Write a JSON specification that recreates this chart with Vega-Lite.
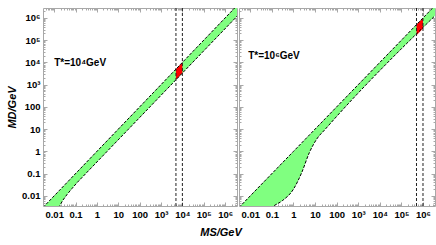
{
  "$schema": "https://vega.github.io/schema/vega-lite/v6.json",
  "background": "white",
  "padding": {"left": 6, "top": 5, "right": 2, "bottom": 2},
  "config": {
    "view": {"stroke": "#a8a8a8", "strokeWidth": 1},
    "font": "Liberation Sans",
    "concat": {"spacing": 0}
  },
  "spacing": 0,
  "datasets": {
    "bandL": [
      {"x": 0.003, "upper": 0.003, "lower": 0.0001},
      {"x": 0.018, "upper": 0.018, "lower": 0.0035},
      {"x": 0.025, "upper": 0.025, "lower": 0.0062},
      {"x": 0.04, "upper": 0.04, "lower": 0.0115},
      {"x": 0.07, "upper": 0.07, "lower": 0.022},
      {"x": 0.12, "upper": 0.12, "lower": 0.04},
      {"x": 10000000, "upper": 10000000, "lower": 3300000}
    ],
    "bandR": [
      {"x": 0.003, "upper": 0.003, "lower": 0.0001},
      {"x": 0.12, "upper": 0.12, "lower": 0.0035},
      {"x": 0.3, "upper": 0.3, "lower": 0.006},
      {"x": 1, "upper": 1, "lower": 0.02},
      {"x": 2.4, "upper": 2.4, "lower": 0.11},
      {"x": 5.5, "upper": 5.5, "lower": 0.9},
      {"x": 12, "upper": 12, "lower": 3.6},
      {"x": 30, "upper": 30, "lower": 10},
      {"x": 10000000, "upper": 10000000, "lower": 3300000}
    ],
    "redL": [
      {"x": 5000, "upper": 5000, "lower": 1667},
      {"x": 10000, "upper": 10000, "lower": 3333}
    ],
    "redR": [
      {"x": 500000, "upper": 500000, "lower": 166700},
      {"x": 1000000, "upper": 1000000, "lower": 333300}
    ],
    "rulesL": [{"x": 5000}, {"x": 10000}],
    "rulesR": [{"x": 500000}, {"x": 1000000}],
    "textL": [{"x": 0.01, "y": 9000, "label": "T*=10⁴GeV"}],
    "textR": [{"x": 0.008, "y": 20000, "label": "T*=10⁶GeV"}]
  },
  "title": {"text": "MS/GeV", "orient": "bottom", "anchor": "middle", "font": "Liberation Sans", "fontSize": 11, "fontWeight": "bold", "fontStyle": "italic", "color": "black", "offset": 6},
  "hconcat": [
    {
      "width": 194,
      "height": 198,
      "resolve": {"axis": {"x": "independent", "y": "independent"}},
      "layer": [
        {
          "data": {"name": "bandL"},
          "mark": {"type": "area", "color": "#80ff80", "opacity": 1, "clip": true},
          "encoding": {
            "x": {"field": "x", "type": "quantitative",
              "scale": {"type": "log", "domain": [0.003, 3600000], "nice": false},
              "axis": {"orient": "bottom", "title": null, "domain": false, "grid": false,
                "values": [0.004,0.005,0.006,0.007,0.008,0.009,0.01,0.02,0.03,0.04,0.05,0.06,0.07,0.08,0.09,0.1,0.2,0.3,0.4,0.5,0.6,0.7,0.8,0.9,1,2,3,4,5,6,7,8,9,10,20,30,40,50,60,70,80,90,100,200,300,400,500,600,700,800,900,1000,2000,3000,4000,5000,6000,7000,8000,9000,10000,20000,30000,40000,50000,60000,70000,80000,90000,100000,200000,300000,400000,500000,600000,700000,800000,900000,1000000,2000000,3000000],
                "labelExpr": "datum.value == 0.01 ? '0.01' : datum.value == 0.1 ? '0.1' : datum.value == 1 ? '1' : datum.value == 10 ? '10' : datum.value == 100 ? '100' : datum.value == 1000 ? '10³' : datum.value == 10000 ? '10⁴' : datum.value == 100000 ? '10⁵' : datum.value == 1000000 ? '10⁶' : ''",
                "tickSize": {"condition": {"test": "indexof([0.01,0.1,1,10,100,1000,10000,100000,1000000], datum.value) >= 0", "value": -4}, "value": -2},
                "tickColor": "#a8a8a8", "labelPadding": 7, "labelFont": "Liberation Sans", "labelFontSize": 9.5, "labelFontWeight": "bold", "labelColor": "black", "labelOverlap": false, "labelFlush": false, "labelBound": false}},
            "y": {"field": "upper", "type": "quantitative",
              "scale": {"type": "log", "domain": [0.0035, 2800000], "nice": false},
              "axis": {"orient": "left", "title": "MD/GeV", "domain": false, "grid": false,
                "values": [0.004,0.005,0.006,0.007,0.008,0.009,0.01,0.02,0.03,0.04,0.05,0.06,0.07,0.08,0.09,0.1,0.2,0.3,0.4,0.5,0.6,0.7,0.8,0.9,1,2,3,4,5,6,7,8,9,10,20,30,40,50,60,70,80,90,100,200,300,400,500,600,700,800,900,1000,2000,3000,4000,5000,6000,7000,8000,9000,10000,20000,30000,40000,50000,60000,70000,80000,90000,100000,200000,300000,400000,500000,600000,700000,800000,900000,1000000,2000000],
                "labelExpr": "datum.value == 0.01 ? '0.01' : datum.value == 0.1 ? '0.1' : datum.value == 1 ? '1' : datum.value == 10 ? '10' : datum.value == 100 ? '100' : datum.value == 1000 ? '10³' : datum.value == 10000 ? '10⁴' : datum.value == 100000 ? '10⁵' : datum.value == 1000000 ? '10⁶' : ''",
                "tickSize": {"condition": {"test": "indexof([0.01,0.1,1,10,100,1000,10000,100000,1000000], datum.value) >= 0", "value": -4}, "value": -2},
                "tickColor": "#a8a8a8", "labelPadding": 7, "labelFont": "Liberation Sans", "labelFontSize": 9.5, "labelFontWeight": "bold", "labelColor": "black", "labelOverlap": false, "labelFlush": false, "labelBound": false,
                "titleFont": "Liberation Sans", "titleFontSize": 11, "titleFontWeight": "bold", "titleFontStyle": "italic", "titleColor": "black", "titlePadding": 4}},
            "y2": {"field": "lower"}
          }
        },
        {
          "data": {"name": "redL"},
          "mark": {"type": "area", "color": "#ff0000", "opacity": 1, "clip": true},
          "encoding": {
            "x": {"field": "x", "type": "quantitative",
              "axis": {"orient": "top", "title": null, "domain": false, "grid": false, "labels": false,
                "values": [0.004,0.005,0.006,0.007,0.008,0.009,0.01,0.02,0.03,0.04,0.05,0.06,0.07,0.08,0.09,0.1,0.2,0.3,0.4,0.5,0.6,0.7,0.8,0.9,1,2,3,4,5,6,7,8,9,10,20,30,40,50,60,70,80,90,100,200,300,400,500,600,700,800,900,1000,2000,3000,4000,5000,6000,7000,8000,9000,10000,20000,30000,40000,50000,60000,70000,80000,90000,100000,200000,300000,400000,500000,600000,700000,800000,900000,1000000,2000000,3000000],
                "tickSize": {"condition": {"test": "indexof([0.01,0.1,1,10,100,1000,10000,100000,1000000], datum.value) >= 0", "value": -4}, "value": -2},
                "tickColor": "#a8a8a8"}},
            "y": {"field": "upper", "type": "quantitative",
              "axis": {"orient": "right", "title": null, "domain": false, "grid": false, "labels": false,
                "values": [0.004,0.005,0.006,0.007,0.008,0.009,0.01,0.02,0.03,0.04,0.05,0.06,0.07,0.08,0.09,0.1,0.2,0.3,0.4,0.5,0.6,0.7,0.8,0.9,1,2,3,4,5,6,7,8,9,10,20,30,40,50,60,70,80,90,100,200,300,400,500,600,700,800,900,1000,2000,3000,4000,5000,6000,7000,8000,9000,10000,20000,30000,40000,50000,60000,70000,80000,90000,100000,200000,300000,400000,500000,600000,700000,800000,900000,1000000,2000000],
                "tickSize": {"condition": {"test": "indexof([0.01,0.1,1,10,100,1000,10000,100000,1000000], datum.value) >= 0", "value": -4}, "value": -2},
                "tickColor": "#a8a8a8"}},
            "y2": {"field": "lower"}
          }
        },
        {
          "data": {"name": "bandL"},
          "mark": {"type": "line", "color": "black", "strokeWidth": 1, "strokeDash": [3, 1.5], "clip": true},
          "encoding": {
            "x": {"field": "x", "type": "quantitative", "axis": null},
            "y": {"field": "upper", "type": "quantitative", "axis": null}
          }
        },
        {
          "data": {"name": "bandL"},
          "mark": {"type": "line", "color": "black", "strokeWidth": 1, "strokeDash": [3, 1.5], "clip": true},
          "encoding": {
            "x": {"field": "x", "type": "quantitative", "axis": null},
            "y": {"field": "lower", "type": "quantitative", "axis": null}
          }
        },
        {
          "data": {"name": "rulesL"},
          "mark": {"type": "rule", "color": "#222222", "strokeWidth": 1, "strokeDash": [3, 2]},
          "encoding": {
            "x": {"field": "x", "type": "quantitative", "axis": null}
          }
        },
        {
          "data": {"name": "textL"},
          "mark": {"type": "text", "align": "left", "baseline": "middle", "font": "Liberation Sans", "fontSize": 10, "fontWeight": "bold", "color": "black"},
          "encoding": {
            "x": {"field": "x", "type": "quantitative", "axis": null},
            "y": {"field": "y", "type": "quantitative", "axis": null},
            "text": {"field": "label"}
          }
        }
      ]
    },
    {
      "width": 196,
      "height": 198,
      "resolve": {"axis": {"x": "independent", "y": "independent"}},
      "layer": [
        {
          "data": {"name": "bandR"},
          "mark": {"type": "area", "color": "#80ff80", "opacity": 1, "clip": true, "interpolate": "monotone"},
          "encoding": {
            "x": {"field": "x", "type": "quantitative",
              "scale": {"type": "log", "domain": [0.003, 3600000], "nice": false},
              "axis": {"orient": "bottom", "title": null, "domain": false, "grid": false,
                "values": [0.004,0.005,0.006,0.007,0.008,0.009,0.01,0.02,0.03,0.04,0.05,0.06,0.07,0.08,0.09,0.1,0.2,0.3,0.4,0.5,0.6,0.7,0.8,0.9,1,2,3,4,5,6,7,8,9,10,20,30,40,50,60,70,80,90,100,200,300,400,500,600,700,800,900,1000,2000,3000,4000,5000,6000,7000,8000,9000,10000,20000,30000,40000,50000,60000,70000,80000,90000,100000,200000,300000,400000,500000,600000,700000,800000,900000,1000000,2000000,3000000],
                "labelExpr": "datum.value == 0.01 ? '0.01' : datum.value == 0.1 ? '0.1' : datum.value == 1 ? '1' : datum.value == 10 ? '10' : datum.value == 100 ? '100' : datum.value == 1000 ? '10³' : datum.value == 10000 ? '10⁴' : datum.value == 100000 ? '10⁵' : datum.value == 1000000 ? '10⁶' : ''",
                "tickSize": {"condition": {"test": "indexof([0.01,0.1,1,10,100,1000,10000,100000,1000000], datum.value) >= 0", "value": -4}, "value": -2},
                "tickColor": "#a8a8a8", "labelPadding": 7, "labelFont": "Liberation Sans", "labelFontSize": 9.5, "labelFontWeight": "bold", "labelColor": "black", "labelOverlap": false, "labelFlush": false, "labelBound": false}},
            "y": {"field": "upper", "type": "quantitative",
              "scale": {"type": "log", "domain": [0.0035, 2800000], "nice": false},
              "axis": {"orient": "left", "title": null, "domain": false, "grid": false, "labels": false,
                "values": [0.004,0.005,0.006,0.007,0.008,0.009,0.01,0.02,0.03,0.04,0.05,0.06,0.07,0.08,0.09,0.1,0.2,0.3,0.4,0.5,0.6,0.7,0.8,0.9,1,2,3,4,5,6,7,8,9,10,20,30,40,50,60,70,80,90,100,200,300,400,500,600,700,800,900,1000,2000,3000,4000,5000,6000,7000,8000,9000,10000,20000,30000,40000,50000,60000,70000,80000,90000,100000,200000,300000,400000,500000,600000,700000,800000,900000,1000000,2000000],
                "tickSize": {"condition": {"test": "indexof([0.01,0.1,1,10,100,1000,10000,100000,1000000], datum.value) >= 0", "value": -4}, "value": -2},
                "tickColor": "#a8a8a8"}},
            "y2": {"field": "lower"}
          }
        },
        {
          "data": {"name": "redR"},
          "mark": {"type": "area", "color": "#ff0000", "opacity": 1, "clip": true},
          "encoding": {
            "x": {"field": "x", "type": "quantitative",
              "axis": {"orient": "top", "title": null, "domain": false, "grid": false, "labels": false,
                "values": [0.004,0.005,0.006,0.007,0.008,0.009,0.01,0.02,0.03,0.04,0.05,0.06,0.07,0.08,0.09,0.1,0.2,0.3,0.4,0.5,0.6,0.7,0.8,0.9,1,2,3,4,5,6,7,8,9,10,20,30,40,50,60,70,80,90,100,200,300,400,500,600,700,800,900,1000,2000,3000,4000,5000,6000,7000,8000,9000,10000,20000,30000,40000,50000,60000,70000,80000,90000,100000,200000,300000,400000,500000,600000,700000,800000,900000,1000000,2000000,3000000],
                "tickSize": {"condition": {"test": "indexof([0.01,0.1,1,10,100,1000,10000,100000,1000000], datum.value) >= 0", "value": -4}, "value": -2},
                "tickColor": "#a8a8a8"}},
            "y": {"field": "upper", "type": "quantitative",
              "axis": {"orient": "right", "title": null, "domain": false, "grid": false, "labels": false,
                "values": [0.004,0.005,0.006,0.007,0.008,0.009,0.01,0.02,0.03,0.04,0.05,0.06,0.07,0.08,0.09,0.1,0.2,0.3,0.4,0.5,0.6,0.7,0.8,0.9,1,2,3,4,5,6,7,8,9,10,20,30,40,50,60,70,80,90,100,200,300,400,500,600,700,800,900,1000,2000,3000,4000,5000,6000,7000,8000,9000,10000,20000,30000,40000,50000,60000,70000,80000,90000,100000,200000,300000,400000,500000,600000,700000,800000,900000,1000000,2000000],
                "tickSize": {"condition": {"test": "indexof([0.01,0.1,1,10,100,1000,10000,100000,1000000], datum.value) >= 0", "value": -4}, "value": -2},
                "tickColor": "#a8a8a8"}},
            "y2": {"field": "lower"}
          }
        },
        {
          "data": {"name": "bandR"},
          "mark": {"type": "line", "color": "black", "strokeWidth": 1, "strokeDash": [3, 1.5], "clip": true},
          "encoding": {
            "x": {"field": "x", "type": "quantitative", "axis": null},
            "y": {"field": "upper", "type": "quantitative", "axis": null}
          }
        },
        {
          "data": {"name": "bandR"},
          "mark": {"type": "line", "color": "black", "strokeWidth": 1, "strokeDash": [3, 1.5], "clip": true, "interpolate": "monotone"},
          "encoding": {
            "x": {"field": "x", "type": "quantitative", "axis": null},
            "y": {"field": "lower", "type": "quantitative", "axis": null}
          }
        },
        {
          "data": {"name": "rulesR"},
          "mark": {"type": "rule", "color": "#222222", "strokeWidth": 1, "strokeDash": [3, 2]},
          "encoding": {
            "x": {"field": "x", "type": "quantitative", "axis": null}
          }
        },
        {
          "data": {"name": "textR"},
          "mark": {"type": "text", "align": "left", "baseline": "middle", "font": "Liberation Sans", "fontSize": 10, "fontWeight": "bold", "color": "black"},
          "encoding": {
            "x": {"field": "x", "type": "quantitative", "axis": null},
            "y": {"field": "y", "type": "quantitative", "axis": null},
            "text": {"field": "label"}
          }
        }
      ]
    }
  ]
}
